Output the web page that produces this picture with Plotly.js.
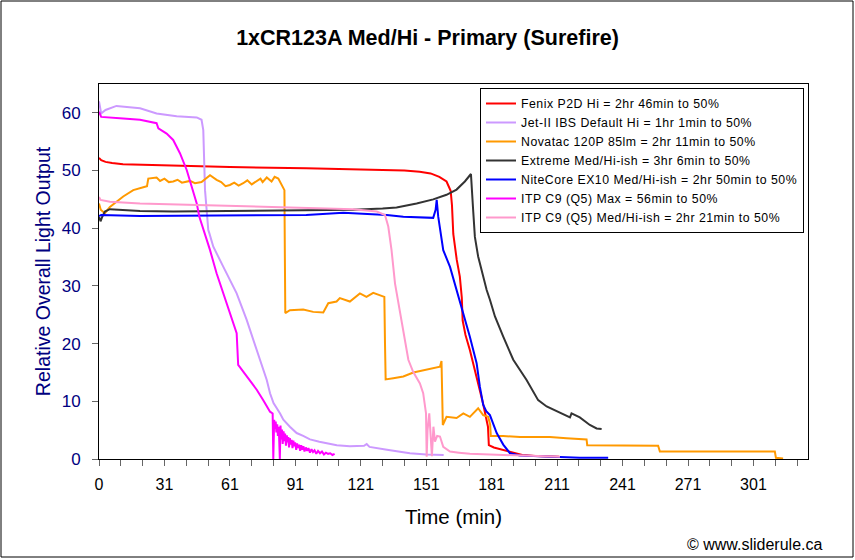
<!DOCTYPE html>
<html>
<head>
<meta charset="utf-8">
<script src="https://cdn.plot.ly/plotly-3.0.1.min.js"></script>
<style>
  html, body { margin: 0; padding: 0; background: #ffffff; }
  #chart { width: 855px; height: 560px; }
  .legendtext { letter-spacing: 0.5px; }
</style>
</head>
<body>
<div id="chart"></div>
<script>
// ---- Data ----
const seriesNames = [
  "Fenix P2D Hi = 2hr 46min to 50%",
  "Jet-II IBS Default Hi = 1hr 1min to 50%",
  "Novatac 120P 85lm = 2hr 11min to 50%",
  "Extreme Med/Hi-ish = 3hr 6min to 50%",
  "NiteCore EX10 Med/Hi-ish = 2hr 50min to 50%",
  "ITP C9 (Q5) Max = 56min to 50%",
  "ITP C9 (Q5) Med/Hi-ish = 2hr 21min to 50%"
];
const seriesColors = ["#FF0000", "#CC99FF", "#FF9900", "#333333", "#0000FF", "#FF00FF", "#FF99CC"];

const xTickVals = [0, 30, 60, 90, 120, 150, 180, 210, 240, 270, 300];
const xTickText = ["0", "31", "61", "91", "121", "151", "181", "211", "241", "271", "301"];

const fenixX = [0, 1, 3, 6, 11, 30, 60, 95, 120, 140, 147, 152, 156, 159.3, 161.2, 161.8, 162.4, 163.2, 164, 165.4, 166.3, 166.7, 168, 170, 173, 176, 178.3, 178.7, 181, 185, 191.4, 194, 200, 211];
const fenixY = [52.2, 51.8, 51.5, 51.3, 51.1, 50.9, 50.6, 50.4, 50.2, 50.0, 49.8, 49.5, 48.9, 48.1, 46.5, 44.0, 39.0, 36.5, 34.5, 31.6, 28.0, 24.0, 21.5, 18.9, 14.3, 9.7, 5.6, 2.4, 2.0, 1.6, 0.9, 0.7, 0.5, 0.4];

const jetX = [0, 0.5, 1, 3, 8, 18.8, 26.4, 35.6, 44.8, 47, 47.8, 48.6, 50.1, 50.6, 52.4, 57, 63.1, 67.7, 72.3, 76.9, 78.4, 80, 83, 84.5, 87.5, 90.6, 93.6, 96.7, 101, 109, 115, 121.5, 122.7, 124, 132, 142.5, 150, 158];
const jetY = [62.0, 60.5, 59.9, 60.5, 61.2, 60.8, 59.9, 59.4, 59.2, 58.8, 57.0, 46.6, 39.7, 39.1, 36.8, 33.3, 28.7, 24.1, 18.9, 13.7, 11.4, 9.7, 7.9, 6.8, 5.6, 4.5, 4.0, 3.4, 3.0, 2.4, 2.2, 2.3, 2.6, 2.1, 1.6, 1.0, 0.8, 0.7];

const novaX = [0, 0.8, 2.7, 5, 11.1, 15.7, 20.3, 22, 22.6, 26.4, 28, 30, 32, 34, 36, 38, 41.7, 44, 47, 50.9, 53.9, 56, 58, 60, 62, 64, 66.1, 68, 70, 72.3, 74, 75, 76.9, 79.1, 80.5, 82.2, 83.7, 85, 85.2, 85.4, 87.5, 93.6, 98.2, 102.8, 105.1, 108.9, 110.4, 115, 119.6, 122.6, 125.7, 128.8, 130.8, 131.1, 131.4, 134.9, 139.5, 144.1, 148.6, 153.2, 156.3, 157, 157.3, 157.6, 159.3, 163.9, 167, 170, 173.8, 176.1, 178.4, 179.3, 179.6, 185.3, 193, 197.5, 206.7, 214.3, 223.5, 223.8, 235.7, 246.4, 256.3, 257.1, 281.5, 304.4, 309.8, 310.3, 313.6];
const novaY = [44.3, 43.2, 42.6, 43.7, 45.5, 46.6, 47.1, 47.3, 48.6, 48.8, 48.2, 48.6, 48.0, 48.1, 48.4, 47.9, 48.2, 47.8, 48.0, 49.2, 48.4, 48.0, 47.3, 47.5, 47.9, 47.4, 47.8, 48.3, 47.6, 48.1, 48.6, 48.0, 48.8, 48.1, 48.9, 48.6, 47.5, 46.6, 35.0, 25.3, 25.8, 25.9, 25.5, 25.4, 27.0, 27.3, 27.9, 27.3, 28.7, 28.1, 28.8, 28.4, 28.1, 20.0, 13.8, 14.0, 14.3, 15.0, 15.4, 15.7, 16.0, 17.0, 10.0, 5.9, 7.3, 7.1, 7.9, 7.3, 8.8, 7.6, 7.3, 6.0, 4.0, 4.0, 3.8, 3.8, 3.8, 3.6, 3.4, 2.4, 2.4, 2.3, 2.3, 1.3, 1.3, 1.2, 1.3, 0.2, 0.1];

const extremeX = [0, 0.7, 1.5, 2.7, 5, 18.8, 34, 60, 95, 116.5, 130, 136.4, 145.6, 153.2, 159.3, 163.9, 167.7, 170, 170.5, 171.5, 172.3, 173.8, 177.7, 179.2, 181.5, 185.3, 189.9, 196, 201.3, 205.2, 211.3, 215.9, 216.6, 220.4, 225, 228.1, 230.4];
const extremeY = [42.0, 41.2, 42.0, 42.9, 43.3, 43.0, 42.9, 43.0, 43.2, 43.2, 43.4, 43.6, 44.3, 45.0, 45.8, 46.7, 48.1, 49.2, 49.4, 43.2, 38.5, 35.1, 29.3, 27.6, 24.7, 21.2, 17.2, 13.7, 10.2, 9.1, 8.0, 7.2, 7.9, 7.2, 5.9, 5.3, 5.2];

const niteX = [0, 1, 18.8, 50, 95, 112, 131.9, 139.5, 153.2, 154.3, 154.8, 155.5, 156.3, 157.8, 160.9, 163.9, 167, 170, 173.1, 174.6, 176.1, 177.5, 179.2, 182.3, 185.3, 188.4, 193, 200, 220.4, 233.4];
const niteY = [42.1, 42.3, 42.1, 42.2, 42.3, 42.7, 42.3, 42.0, 41.8, 43.2, 44.9, 42.0, 39.7, 36.2, 33.3, 29.3, 25.3, 21.2, 16.6, 12.5, 9.4, 8.3, 7.6, 4.5, 2.5, 1.0, 0.6, 0.5, 0.2, 0.2];

const itpMaxX = [0, 1, 11.1, 18.8, 26.4, 27.2, 31, 34, 37.1, 40.2, 42.5, 44.8, 46, 48.6, 50.9, 53.9, 57, 60, 63.1, 63.8, 67.7, 72.3, 75.3, 78.4, 79.6, 79.9, 80.3, 80.7, 81.0, 81.3, 81.7, 82.0, 82.4, 82.7, 82.9, 83.2, 83.5, 83.9, 84.2, 84.6, 85.0, 85.3, 85.7, 86.1, 86.4, 86.8, 87.1, 87.5, 87.9, 88.3, 88.7, 89.1, 89.5, 89.9, 90.4, 90.8, 91.3, 91.7, 92.2, 92.7, 93.2, 93.7, 94.2, 94.8, 95.4, 96, 96.7, 97.4, 98.1, 98.8, 99.6, 100.4, 101.3, 102.2, 103.1, 104, 105, 106, 107, 108];
const itpMaxY = [60.2, 59.3, 59.0, 58.8, 58.2, 57.3, 56.4, 55.3, 53.0, 50.1, 47.2, 44.3, 42.0, 39.1, 36.2, 32.2, 28.7, 25.3, 21.8, 16.3, 14.3, 12.0, 10.2, 8.2, 7.9, 0.0, 6.8, 5.2, 6.5, 4.6, 6.0, 4.0, 5.6, 3.2, 0.0, 5.8, 3.4, 5.1, 2.6, 4.8, 3.1, 4.4, 2.3, 4.1, 2.9, 3.8, 2.0, 3.6, 2.5, 3.3, 1.9, 3.2, 2.2, 2.9, 1.6, 2.7, 1.9, 2.5, 1.4, 2.4, 1.6, 2.2, 1.3, 2.0, 1.4, 1.9, 1.1, 1.7, 1.2, 1.5, 0.9, 1.4, 1.0, 1.3, 0.8, 1.1, 0.9, 1.0, 0.7, 0.9];

const itpMedX = [0, 0.7, 5, 18.8, 49.4, 95.2, 116.5, 127.3, 131.1, 132.6, 134.1, 135.7, 137.9, 140.2, 141.8, 144, 147.1, 148.6, 149.9, 150.2, 150.6, 151.4, 152.1, 152.6, 153.3, 154, 155, 156.3, 157.8, 160.9, 165, 170, 185.3, 200, 211.3];
const itpMedY = [45.4, 44.9, 44.6, 44.3, 44.0, 43.6, 43.3, 42.9, 42.3, 40.3, 36.2, 30.4, 25.8, 21.2, 17.2, 15.1, 13.1, 11.4, 7.9, 0.4, 5.0, 7.9, 3.0, 0.5, 5.6, 3.0, 4.0, 3.9, 2.1, 1.3, 1.1, 0.9, 0.7, 0.5, 0.4];

const seriesX = [fenixX, jetX, novaX, extremeX, niteX, itpMaxX, itpMedX];
const seriesY = [fenixY, jetY, novaY, extremeY, niteY, itpMaxY, itpMedY];

// ---- Plot ----
const FONT = "Liberation Sans, Arial, sans-serif";
const traces = seriesNames.map((name, i) => ({
  type: "scatter",
  mode: "lines",
  name: name,
  x: seriesX[i],
  y: seriesY[i],
  line: { color: seriesColors[i], width: 2 }
}));

// plot area in pixels: left 99, right 808, top 84, bottom 459
const L = 99, R = 808, T = 84, B = 459;
const pw = R - L, ph = B - T;
const px = v => (v - L) / pw;
const py = v => (B - v) / ph;

const layout = {
  width: 855,
  height: 560,
  margin: { l: L, r: 855 - R, t: T, b: 560 - B, pad: 0 },
  paper_bgcolor: "#ffffff",
  plot_bgcolor: "#ffffff",
  font: { family: FONT, color: "#000000" },
  title: {
    text: "1xCR123A Med/Hi - Primary (Surefire)",
    font: { family: FONT, size: 21.5, weight: "bold", color: "#000000" },
    x: 0.5, xref: "container", xanchor: "center",
    y: 1 - 37 / 560, yref: "container", yanchor: "middle"
  },
  xaxis: {
    range: [0, 325],
    tickmode: "array",
    tickvals: xTickVals,
    ticktext: xTickText,
    ticks: "outside",
    ticklen: 6,
    tickcolor: "#666666",
    ticklabelstandoff: 5,
    minor: { ticks: "outside", ticklen: 6, tick0: 0, dtick: 10, tickcolor: "#666666", showgrid: false },
    showline: true, linecolor: "#000000", linewidth: 1, mirror: true,
    showgrid: false, zeroline: false,
    tickfont: { family: FONT, size: 16, color: "#000000" },
    title: { text: "Time (min)", font: { family: FONT, size: 20.5, color: "#000000" }, standoff: 17 },
    automargin: false
  },
  yaxis: {
    range: [0, 65],
    tickmode: "linear", tick0: 0, dtick: 10,
    ticks: "outside",
    ticklen: 6,
    tickcolor: "#666666",
    ticklabelstandoff: 8,
    showline: true, linecolor: "#000000", linewidth: 1, mirror: true,
    showgrid: false, zeroline: false,
    tickfont: { family: FONT, size: 17, color: "#000080" },
    title: { text: "Relative Overall Light Output", font: { family: FONT, size: 19.5, color: "#000080" }, standoff: 5 },
    automargin: false
  },
  legend: {
    x: px(480), y: py(88), xanchor: "left", yanchor: "top",
    bgcolor: "#ffffff", bordercolor: "#000000", borderwidth: 1,
    font: { family: FONT, size: 12.3, color: "#000000" },
    itemwidth: 30, tracegroupgap: 0
  },
  annotations: [{
    text: "© www.sliderule.ca",
    xref: "paper", yref: "paper",
    x: px(824), y: py(544), xanchor: "right", yanchor: "middle",
    showarrow: false,
    font: { family: FONT, size: 16, color: "#000000" }
  }],
  shapes: [{
    type: "rect", xref: "paper", yref: "paper",
    x0: px(1), x1: px(853), y0: py(557), y1: py(1),
    line: { color: "#000000", width: 1 }, fillcolor: "rgba(0,0,0,0)"
  }],
  showlegend: true
};

Plotly.newPlot("chart", traces, layout, { displayModeBar: false, staticPlot: true });
</script>
</body>
</html>
